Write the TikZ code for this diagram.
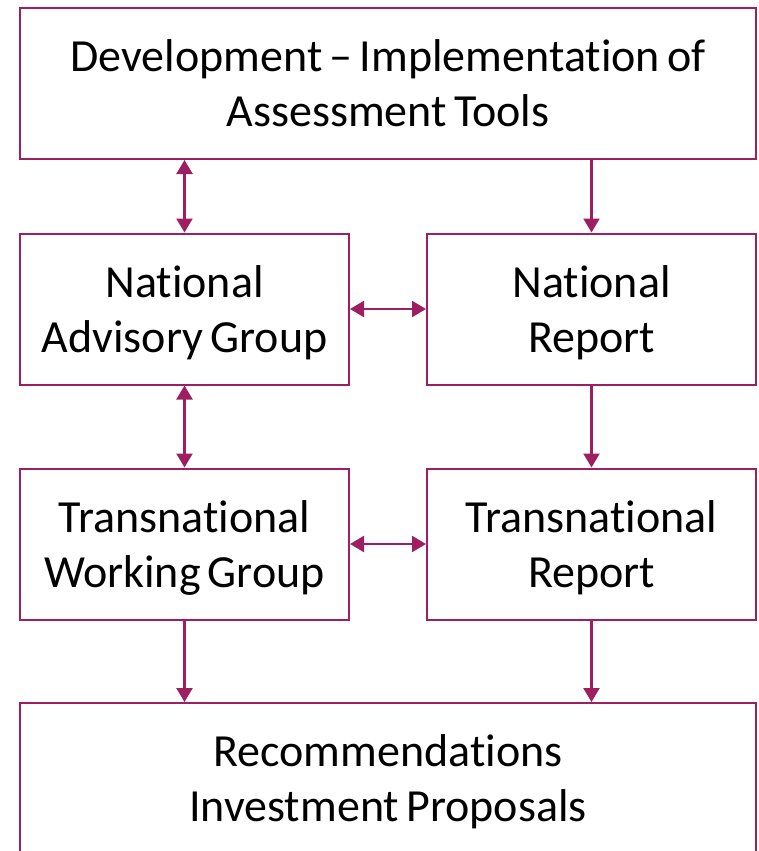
\documentclass[tikz,border=0pt]{standalone}
\usepackage{fontspec}
\setmainfont[Ligatures=CommonOff,WordSpace=0.7]{Carlito}
\usetikzlibrary{arrows.meta}
\definecolor{plum}{RGB}{158,30,98}
\begin{document}
\begin{tikzpicture}[x=1pt,y=-1pt,
  box/.style={draw=plum,line width=2pt,inner sep=0pt,align=center,
    minimum height=151pt,text depth=0pt,font=\fontsize{46}{55}\selectfont},
  wide/.style={box,minimum width=736pt},
  half/.style={box,minimum width=329pt},
  conn/.style={plum,line width=2.3pt,-{Triangle[width=16pt,length=14pt]}},
  conntwo/.style={plum,line width=2.3pt,{Triangle[width=16pt,length=14pt]}-{Triangle[width=16pt,length=14pt]}}]
\useasboundingbox (0,0) rectangle (759,851);
\clip (0,0) rectangle (759,851);
\node[wide] (top) at (388,83.5) {Development – Implementation of\\Assessment Tools};
\node[half] (nag) at (184.5,309) {National\\Advisory Group};
\node[half] (nr) at (591.5,309) {National\\Report};
\node[half] (twg) at (184.5,544) {Transnational\\Working Group};
\node[half] (tr) at (591.5,544) {Transnational\\Report};
\node[wide] (bot) at (388,778.5) {Recommendations\\Investment Proposals};
\draw[conntwo] (top.south -| nag) -- (nag.north);
\draw[conn] (top.south -| nr) -- (nr.north);
\draw[conntwo] (nag.east) -- (nr.west);
\draw[conntwo] (nag.south) -- (twg.north);
\draw[conn] (nr.south) -- (tr.north);
\draw[conntwo] (twg.east) -- (tr.west);
\draw[conn] (twg.south) -- (bot.north -| twg);
\draw[conn] (tr.south) -- (bot.north -| tr);
\end{tikzpicture}
\end{document}
